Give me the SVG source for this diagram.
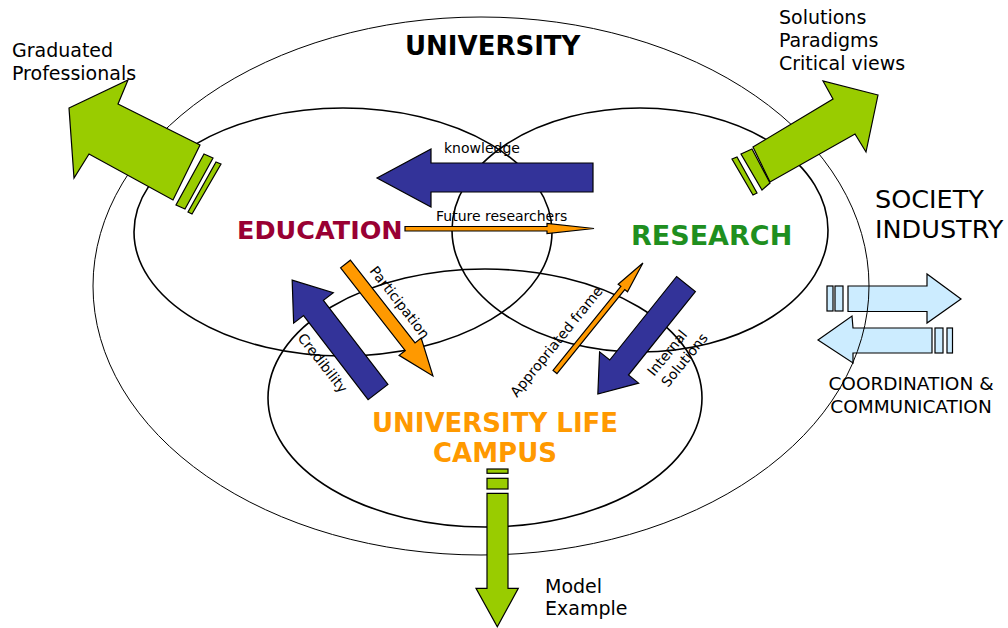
<svg xmlns="http://www.w3.org/2000/svg" width="1008" height="628" viewBox="0 0 1008 628">
<style>
text{font-family:"DejaVu Sans","Liberation Sans",sans-serif;fill:#000}
.ring{fill:none;stroke:#000;stroke-width:1.6}
.big{fill:none;stroke:#000;stroke-width:1}
.green{fill:#99CC00;stroke:#000;stroke-width:1.2;stroke-linejoin:miter}
.blue{fill:#333399;stroke:#000;stroke-width:1.2}
.orange{fill:#FF9900;stroke:#000;stroke-width:1.2}
.sky{fill:#CCECFF;stroke:#000;stroke-width:1.2}
.lbl{font-size:19px}
.small{font-size:14px}
.title{font-weight:bold}
</style>
<rect width="1008" height="628" fill="#fff"/>
<g id="society-arrows">
  <rect class="sky" x="827" y="286" width="6" height="25"/>
  <rect class="sky" x="835" y="286" width="8" height="25"/>
  <polygon class="sky" points="848,286 927,286 927,274 961,299 927,323 927,311.5 848,311.5"/>
  <polygon class="sky" points="932,328 853,328 852,316 818,340 853,363 853,353 932,353"/>
  <rect class="sky" x="935" y="328" width="8" height="25"/>
  <rect class="sky" x="947" y="328" width="5.5" height="25"/>
</g>
<g id="university">
  <ellipse class="big" cx="481" cy="286" rx="388" ry="269"/>
  <text class="title" x="405" y="55" font-size="26">UNIVERSITY</text>
</g>
<g id="education">
  <ellipse class="ring" cx="343" cy="232" rx="209" ry="124"/>
  <text class="title" x="237" y="239" font-size="25.5" style="fill:#990033">EDUCATION</text>
</g>
<g id="research">
  <ellipse class="ring" cx="640" cy="230" rx="188" ry="122"/>
  <text class="title" x="631" y="245" font-size="27" style="fill:#1F8F1F">RESEARCH</text>
</g>
<g id="campus">
  <ellipse class="ring" cx="485" cy="398" rx="217" ry="129"/>
  <text class="title" x="495" y="432" font-size="26" text-anchor="middle" style="fill:#FF9900">UNIVERSITY LIFE</text>
  <text class="title" x="495" y="462" font-size="26" text-anchor="middle" style="fill:#FF9900">CAMPUS</text>
</g>
<g id="connectors">
  <g id="graduated-arrow">
    <polygon class="green" points="69,108 128,80 118,104 200,145 173,200 89,154 74,178"/>
    <polygon class="green" points="204,154 213,158 185,209 176,205"/>
    <polygon class="green" points="216,162 221,164 192,214 188,212"/>
  </g>
  <g id="solutions-arrow">
    <polygon class="green" points="878,95 823,81 833,99 753,147 770,182 855,134 866,152"/>
    <polygon class="green" points="741,154 752,149 770,183 762,190"/>
    <polygon class="green" points="732,159 737,157 757,193 753,195"/>
  </g>
  <g id="model-arrow">
    <rect class="green" x="487" y="469" width="21" height="4.3"/>
    <rect class="green" x="487" y="478.3" width="21" height="10.7"/>
    <polygon class="green" points="487,493.3 508,493.3 508,588.3 518.3,588.3 497.3,626.7 476,588.3 487,588.3"/>
  </g>
  <polygon id="knowledge-arrow" class="blue" points="593,163 431,163 431,149 377,178 431,207 431,192 593,192"/>
  <polygon id="future-arrow" class="orange" points="405,226.5 547,226.5 547,223.5 594,228.5 547,233.5 547,231 405,231"/>
  <polygon id="participation-arrow" class="orange" points="0,-6.2 105,-6.2 105,-14 142,0 105,14 105,6.2 0,6.2" transform="translate(345.5,264) rotate(52)"/>
  <polygon id="credibility-arrow" class="blue" points="0,-12.5 106,-12.5 106,-25 141,0 106,25 106,12.5 0,12.5" transform="translate(378,392) rotate(-127.5)"/>
  <polygon id="internal-arrow" class="blue" points="0,-12 107,-12 107,-25 141,0 107,25 107,12 0,12" transform="translate(686,284) rotate(128.7)"/>
  <polygon id="appropriated-arrow" class="orange" points="0,-2.5 108,-2.5 108,-6 140,0 108,6 108,2.5 0,2.5" transform="translate(555,372) rotate(-51.1)"/>
  <text class="small" x="444" y="153">knowledge</text>
  <text class="small" x="436" y="221">Future researchers</text>
  <text class="small" transform="translate(369,271) rotate(52)">Participation</text>
  <text class="small" transform="translate(297,338) rotate(52)">Credibility</text>
  <text class="small" transform="translate(517,398) rotate(-51)">Appropriated frame</text>
  <text class="small" transform="translate(654,377) rotate(-51)">Internal</text>
  <text class="small" transform="translate(668,388) rotate(-51)">Solutions</text>
</g>
<g id="labels">
  <text class="lbl" x="12" y="57">Graduated</text>
  <text class="lbl" x="12" y="80">Professionals</text>
  <text class="lbl" x="779" y="24">Solutions</text>
  <text class="lbl" x="779" y="47">Paradigms</text>
  <text class="lbl" x="779" y="70">Critical views</text>
  <text x="875" y="208" font-size="25.5">SOCIETY</text>
  <text x="875" y="238" font-size="25.5">INDUSTRY</text>
  <text x="911" y="390" font-size="18.5" text-anchor="middle">COORDINATION &amp;</text>
  <text x="911" y="413" font-size="18.5" text-anchor="middle">COMMUNICATION</text>
  <text class="lbl" x="545" y="593">Model</text>
  <text class="lbl" x="545" y="615">Example</text>
</g>
</svg>
